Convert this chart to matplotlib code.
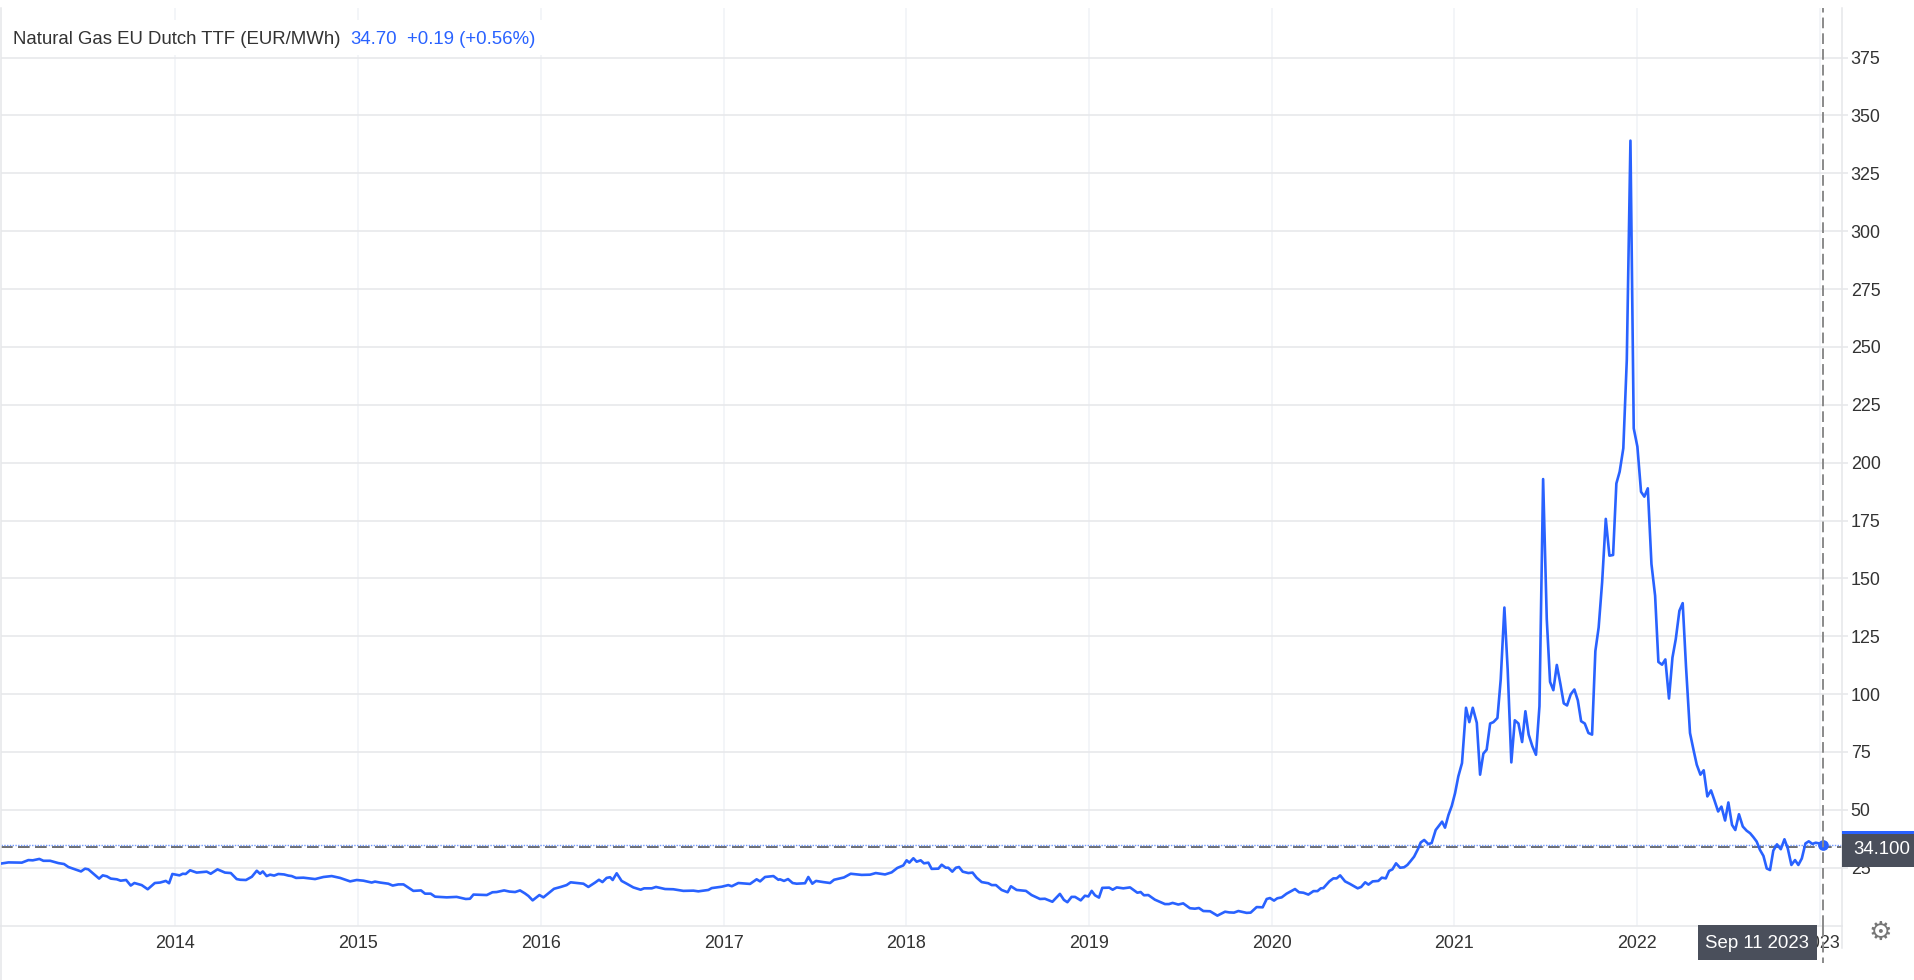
import matplotlib
matplotlib.use("Agg")
import matplotlib.pyplot as plt
from matplotlib.lines import Line2D
from matplotlib.patches import Rectangle

plt.rcParams['font.family'] = ['Liberation Sans', 'DejaVu Sans']

# horizontal position on the chart's own (labelled) year scale
year_pos = [
 2013.045,2013.086,2013.159,2013.195,2013.219,2013.255,2013.277,2013.314,2013.359,2013.390,2013.414,2013.451,
 2013.483,2013.505,2013.523,2013.582,2013.602,2013.624,2013.646,2013.679,2013.700,2013.730,2013.755,2013.775,
 2013.815,2013.848,2013.887,2013.916,2013.947,2013.965,2013.983,2014.022,2014.040,2014.056,2014.080,2014.116,
 2014.171,2014.193,2014.230,2014.271,2014.303,2014.335,2014.354,2014.386,2014.418,2014.445,2014.463,
 2014.478,2014.499,2014.518,2014.540,2014.563,2014.594,2014.618,2014.636,2014.660,2014.700,2014.764,2014.810,
 2014.855,2014.901,2014.956,2014.992,2015.029,2015.074,2015.092,2015.120,2015.165,2015.189,2015.220,2015.248,
 2015.302,2015.344,2015.366,2015.397,2015.421,2015.485,2015.539,2015.589,2015.612,2015.631,2015.704,2015.735,
 2015.758,2015.799,2015.828,2015.859,2015.886,
 2015.913,2015.932,2015.955,2015.992,2016.014,2016.041,2016.072,2016.109,2016.141,2016.163,2016.233,2016.260,
 2016.297,2016.318,2016.337,2016.360,2016.379,2016.393,2016.415,2016.442,2016.470,2016.506,2016.546,2016.565,
 2016.607,2016.630,2016.680,2016.725,2016.780,2016.835,2016.862,2016.917,2016.935,2016.990,2017.026,2017.045,
 2017.081,2017.145,2017.181,2017.200,2017.227,2017.273,2017.300,
 2017.309,2017.331,2017.353,2017.378,2017.400,2017.446,2017.464,2017.486,2017.506,2017.546,2017.583,2017.605,
 2017.659,2017.696,2017.756,2017.802,2017.833,2017.884,2017.920,2017.951,2017.984,2018.002,2018.017,2018.039,
 2018.057,2018.079,2018.097,2018.121,2018.139,2018.176,2018.194,2018.216,2018.230,2018.252,2018.272,2018.289,
 2018.309,2018.340,2018.363,2018.385,2018.413,2018.449,2018.468,2018.491,2018.522,2018.555,2018.573,2018.604,
 2018.655,2018.686,2018.732,
 2018.759,2018.800,2018.841,2018.863,2018.882,2018.905,2018.924,2018.955,2018.978,2018.997,2019.015,2019.033,
 2019.055,2019.073,2019.111,2019.130,2019.152,2019.188,2019.225,2019.265,2019.283,2019.301,2019.325,2019.361,
 2019.416,2019.438,2019.458,2019.489,2019.516,2019.553,2019.580,2019.602,2019.626,2019.663,2019.703,2019.745,
 2019.768,2019.794,2019.818,2019.863,2019.885,2019.918,2019.951,2019.973,2019.991,2020.013,2020.031,2020.055,
 2020.082,2020.128,2020.150,
 2020.174,2020.201,2020.229,2020.251,2020.269,2020.283,2020.316,2020.338,2020.356,2020.375,2020.402,2020.429,
 2020.471,2020.490,2020.512,2020.530,2020.553,2020.584,2020.603,2020.625,2020.643,2020.661,2020.681,2020.703,
 2020.725,2020.743,2020.762,2020.780,2020.803,2020.816,2020.835,2020.858,2020.876,2020.898,2020.918,2020.933,
 2020.949,2020.968,2020.986,2021.004,2021.022,2021.042,2021.064,2021.082,2021.101,2021.123,2021.141,2021.159,
 2021.177,2021.196,2021.214,2021.236,2021.254,2021.274,2021.292,2021.312,2021.331,2021.351,2021.371,2021.389,
 2021.407,2021.427,2021.447,2021.466,2021.486,2021.506,2021.524,2021.542,2021.561,2021.581,2021.599,2021.617,
 2021.637,2021.657,2021.676,2021.694,2021.714,2021.734,2021.754,2021.772,2021.790,2021.809,2021.829,2021.849,
 2021.869,2021.887,2021.905,2021.925,2021.944,2021.964,2021.982,2022.002,2022.022,2022.040,2022.059,2022.079,
 2022.099,2022.117,2022.137,2022.155,2022.175,2022.194,2022.212,2022.232,2022.250,2022.268,2022.290,2022.309,
 2022.327,2022.347,2022.365,2022.385,2022.405,2022.423,2022.444,2022.462,2022.482,2022.500,2022.520,2022.538,
 2022.558,2022.579,2022.600,2022.619,2022.637,2022.655,2022.673,2022.692,2022.710,2022.728,2022.746,2022.766,
 2022.787,2022.807,2022.825,2022.845,2022.865,2022.883,2022.902,2022.922,2022.940,2022.960,2022.978,2022.998,
 2023.016,
]
price = [
 26.8,27.3,27.2,28.3,28.2,28.8,28.0,28.0,27.0,26.6,25.3,24.3,
 23.4,24.6,24.3,20.3,21.7,21.3,20.3,20.0,19.4,19.7,17.3,18.4,
 17.5,15.7,18.4,18.6,19.3,18.3,22.3,21.7,22.4,22.3,23.9,22.9,
 23.3,22.4,24.3,22.9,22.7,20.1,19.8,19.7,21.1,23.7,22.4,
 23.4,21.4,22.0,21.6,22.3,22.1,21.6,21.4,20.6,20.7,20.1,21.0,
 21.4,20.6,19.1,19.7,19.4,18.6,19.0,18.6,18.1,17.3,17.8,17.8,
 15.0,15.2,13.8,13.8,12.5,12.2,12.4,11.5,11.6,13.4,13.2,14.4,
 14.5,15.2,14.7,14.5,15.2,
 13.9,12.8,10.9,13.2,12.2,13.9,15.9,16.7,17.5,18.7,18.1,16.7,
 18.6,19.8,18.8,20.6,20.9,19.7,22.6,19.3,18.1,16.5,15.5,16.1,
 16.1,16.7,15.8,15.7,15.0,15.1,14.8,15.4,16.2,16.8,17.5,17.0,
 18.4,18.0,20.0,19.1,21.0,21.4,19.8,
 20.0,19.3,20.1,18.4,18.1,18.3,21.0,18.1,19.3,18.8,18.4,19.8,
 20.8,22.4,21.9,22.0,22.7,22.1,23.0,24.9,26.0,28.2,27.2,29.1,
 27.6,28.2,26.9,27.2,24.5,24.6,26.3,25.0,25.0,23.3,25.0,25.3,
 23.3,22.7,22.9,20.7,18.8,18.3,17.5,17.5,15.4,14.4,17.0,15.4,
 15.0,13.2,11.5,
 11.6,10.3,13.7,11.1,10.1,12.4,12.4,10.9,12.9,12.6,15.0,13.1,
 12.1,16.3,16.4,15.5,16.5,16.1,16.5,14.2,14.5,13.1,13.2,11.2,
 9.3,9.3,9.8,9.1,9.6,7.5,7.3,7.6,6.3,6.2,4.3,6.0,
 5.7,5.6,6.3,5.5,5.6,8.0,7.9,11.5,11.9,10.8,11.8,12.2,
 13.8,15.8,14.4,
 14.2,13.4,14.9,14.9,16.1,16.2,19.1,20.4,20.4,21.7,19.1,18.0,
 16.1,16.7,18.7,17.7,19.1,19.3,20.7,20.4,23.6,24.3,26.9,25.0,
 25.2,26.2,28.0,29.8,33.4,35.9,37.0,35.2,35.7,41.3,43.4,44.9,
 42.3,47.8,51.7,57.2,64.5,70.2,94.1,87.9,94.1,87.6,65.2,74.3,
 76.0,87.3,87.9,89.7,106.4,137.4,110.7,70.5,88.7,87.3,79.3,92.6,
 82.5,77.5,73.8,94.8,192.9,132.4,105.3,101.7,112.6,104.2,96.0,95.1,
 99.9,102.0,97.3,88.3,87.3,83.2,82.5,118.6,128.8,148.3,175.7,159.8,
 160.1,191.0,196.1,206.2,244.3,339.1,214.8,206.9,187.4,185.3,188.9,156.2,
 142.5,113.9,112.7,115.0,98.1,115.8,123.7,136.0,139.3,112.1,83.2,76.0,
 69.5,65.2,67.1,55.8,58.4,54.3,49.3,51.4,45.4,53.2,43.5,41.3,
 48.1,42.8,41.0,39.9,38.2,36.3,32.7,30.1,24.7,24.0,32.4,35.1,
 33.0,37.3,33.4,26.2,28.3,26.2,29.0,35.5,36.4,35.3,35.8,35.5,
 34.7,
]
year_ticks = [2014, 2015, 2016, 2017, 2018, 2019, 2020, 2021, 2022, 2023]
value_ticks = [25, 50, 75, 100, 125, 150, 175, 200, 225, 250, 275, 300, 325, 350, 375]
last_price = 34.7
prior_close = 34.1
series_name = "Natural Gas EU Dutch TTF (EUR/MWh)"
last_text = "34.70"
change_text = "+0.19 (+0.56%)"
close_text = "34.100"
date_text = "Sep 11 2023"

W, H = 1915, 980
BLUE = '#2962ff'
DARK = '#4a4f5b'
GRID_H = '#e6e7ea'
GRID_V = '#f0f2f6'
TXT = '#333333'
FS = 12.9
TAG_FS = 13.4
LEG_FS = 13.45

def fx(p): return p / W
def fy(p): return 1 - p / H

fig = plt.figure(figsize=(W / 100, H / 100), dpi=100, facecolor='white')
ax = fig.add_axes([fx(1), fy(925.6), fx(1842) - fx(1), fy(8) - fy(925.6)])
ax.set_xlim(2013.045, 2023.122)
ax.set_ylim(0, 396.4)

ax.spines['top'].set_visible(False)
for s in ['left', 'right', 'bottom']:
    ax.spines[s].set_color(GRID_H)
    ax.spines[s].set_linewidth(1.1)

ax.set_axisbelow(True)
ax.set_xticks(year_ticks)
ax.set_xticklabels([str(y) for y in year_ticks])
ax.set_yticks(value_ticks)
ax.yaxis.tick_right()
ax.tick_params(axis='x', length=0, pad=6.8, labelsize=FS, labelcolor=TXT)
ax.tick_params(axis='y', length=4.3, width=1.1, color=GRID_H, pad=2, labelsize=FS, labelcolor=TXT)
ax.grid(axis='y', color=GRID_H, lw=1.1)
ax.grid(axis='x', color=GRID_V, lw=1.1)

# legend backdrop interrupts the vertical grid
ax.add_patch(Rectangle((fx(4), fy(55)), fx(545) - fx(4), fy(20) - fy(55),
                       transform=fig.transFigure, fc='white', ec='none', zorder=1.5))

ax.axhline(prior_close, color='#555555', lw=1.2, dashes=(7, 3.2), zorder=2)
ax.axhline(last_price, color='#6f97ff', lw=1.0, dashes=(1, 1), zorder=2.1)
ax.plot(year_pos, price, color=BLUE, lw=1.9, solid_joinstyle='round', zorder=3)
ax.plot(year_pos[-1:], price[-1:], 'o', color=BLUE, ms=7.7, mec='none', zorder=4)

ax.axvline(year_pos[-1], color='#8a8a8a', lw=1.4, dashes=(5.5, 2.6), zorder=4.5)

fig.add_artist(Line2D([fx(1822.7)] * 2, [fy(925.6), fy(963)], transform=fig.transFigure,
                      color='#8a8a8a', lw=1.4, dashes=(5.5, 2.6), zorder=5))
fig.add_artist(Line2D([fx(1842)] * 2, [fy(925.6), fy(948)], transform=fig.transFigure,
                      color=GRID_H, lw=1.1, zorder=1))
fig.add_artist(Line2D([fx(1)] * 2, [fy(925.6), fy(980)], transform=fig.transFigure,
                      color=GRID_H, lw=1.1, zorder=1))

# legend text
fig.text(fx(13.5), fy(40), series_name, color=TXT, fontsize=LEG_FS, va='center', ha='left', zorder=6)
fig.text(fx(350), fy(40), last_text, color=BLUE, fontsize=LEG_FS, va='center', ha='left', zorder=6)
fig.text(fx(407.5), fy(40), change_text, color=BLUE, fontsize=LEG_FS, va='center', ha='left', zorder=6)

# price tag
fig.add_artist(Rectangle((fx(1842), fy(866.7)), fx(1915) - fx(1842), fy(831) - fy(866.7),
                         transform=fig.transFigure, fc=DARK, ec='none', zorder=5))
fig.add_artist(Rectangle((fx(1842), fy(833.7)), fx(1915) - fx(1842), fy(831) - fy(833.7),
                         transform=fig.transFigure, fc=BLUE, ec='none', zorder=5.1))
fig.text(fx(1881.5), fy(850), close_text, color='white', fontsize=TAG_FS, ha='center', va='center', zorder=6)

# date tag
fig.add_artist(Rectangle((fx(1698), fy(960)), fx(1817) - fx(1698), fy(925) - fy(960),
                         transform=fig.transFigure, fc=DARK, ec='none', zorder=5))
fig.text(fx(1757.5), fy(943), date_text, color='white', fontsize=TAG_FS, ha='center', va='center', zorder=6)

# settings glyph
fig.text(fx(1880), fy(933), '\u2699', family=['DejaVu Sans'], color='#777777', fontsize=19,
         ha='center', va='center', zorder=6)

fig.savefig('out.png', dpi=100, facecolor='white')
